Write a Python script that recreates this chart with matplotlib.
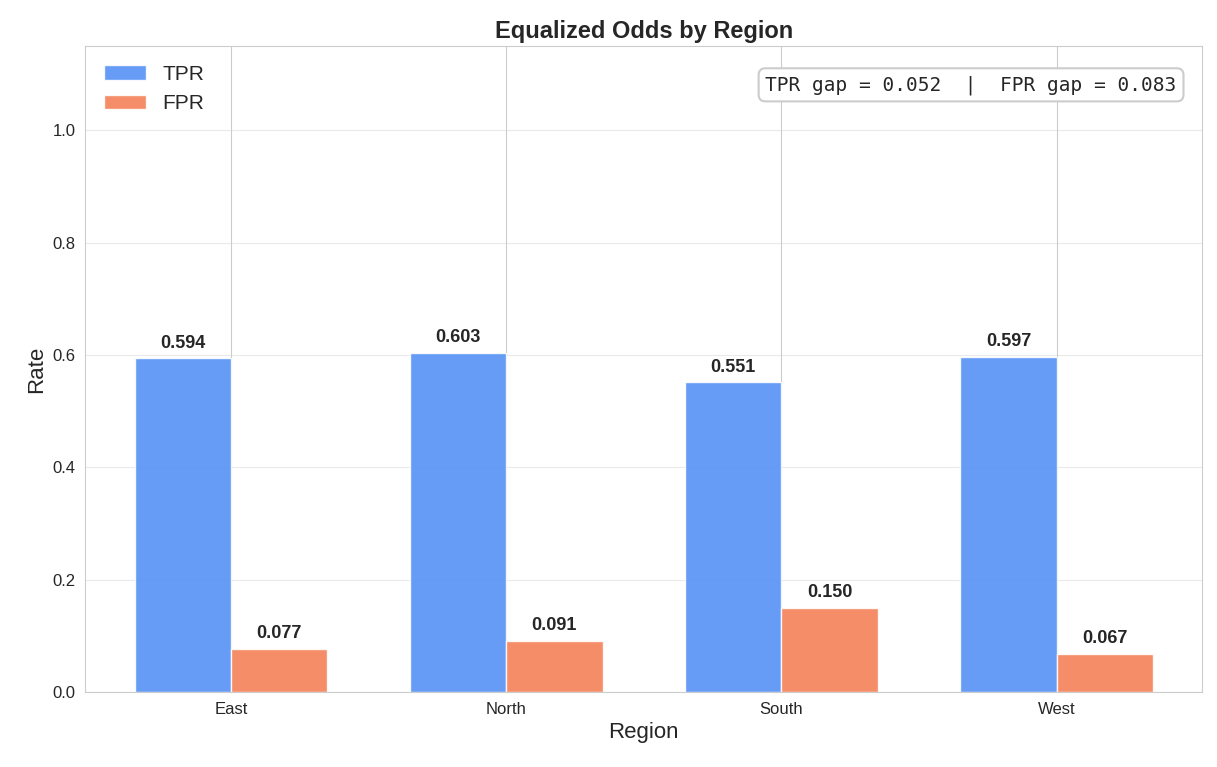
import matplotlib
matplotlib.use("Agg")
import matplotlib.pyplot as plt
import seaborn as sns
import numpy as np

regions = ["East", "North", "South", "West"]
tpr = [0.594, 0.603, 0.551, 0.597]
fpr = [0.077, 0.091, 0.150, 0.067]

sns.set_style("whitegrid")
plt.rcParams['font.family'] = ['Liberation Sans', 'DejaVu Sans']

fig, ax = plt.subplots(figsize=(12.17, 7.67), dpi=100)
fig.subplots_adjust(left=0.07, right=0.988, top=0.94, bottom=0.098)
x = np.arange(len(regions))
w = 0.35
b1 = ax.bar(x - w/2, tpr, w, color="#4f8ef5", alpha=0.87, edgecolor="white", linewidth=1, label="TPR")
b2 = ax.bar(x + w/2, fpr, w, color="#f47c52", alpha=0.87, edgecolor="white", linewidth=1, label="FPR")
for bars, vals in ((b1, tpr), (b2, fpr)):
    for b, v in zip(bars, vals):
        ax.text(b.get_x() + b.get_width()/2, v + 0.012, f"{v:.3f}", ha="center", va="bottom",
                fontsize=13, fontweight="bold", color="#262626")
ax.set_xticks(x)
ax.set_xticklabels(regions, fontsize=12)
ax.tick_params(axis='y', labelsize=12)
ax.set_ylim(0, 1.15)
ax.set_xlim(-0.53, 3.53)
ax.grid(axis='y', alpha=0.4)
ax.grid(axis='x', color="#cccccc")
ax.set_xlabel("Region", fontsize=16)
ax.set_ylabel("Rate", fontsize=16)
ax.set_title("Equalized Odds by Region", fontsize=17, fontweight="bold", color="#262626")
for s in ax.spines.values():
    s.set_color("#cccccc")
ax.legend(loc="upper left", fontsize=15, frameon=False)
ax.text(0.977, 0.955, "TPR gap = 0.052  |  FPR gap = 0.083", transform=ax.transAxes,
        ha="right", va="top", fontsize=14, family="DejaVu Sans Mono", color="#262626",
        bbox=dict(boxstyle="round,pad=0.35", facecolor="white", edgecolor="#cccccc", linewidth=1.5))
fig.savefig("out.png")
